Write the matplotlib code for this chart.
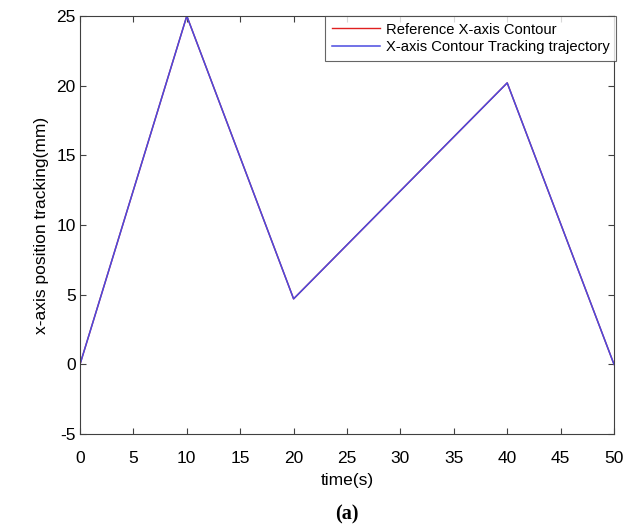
import matplotlib
matplotlib.use('Agg')
import matplotlib.pyplot as plt

# data
time_s = [0, 10, 20, 40, 50]
ref_x = [0, 25, 4.7, 20.2, 0]
track_x = [0, 25, 4.7, 20.2, 0]
x_ticks = [0, 5, 10, 15, 20, 25, 30, 35, 40, 45, 50]
y_ticks = [-5, 0, 5, 10, 15, 20, 25]

plt.rcParams['font.family'] = ['Liberation Sans', 'DejaVu Sans']
plt.rcParams['axes.unicode_minus'] = False

fig = plt.figure(figsize=(6.25, 5.28), dpi=100)
ax = fig.add_axes([0.128, 0.178, 0.8544, 0.7917])

ax.plot(time_s, ref_x, color='#e02020', lw=1.0, label='Reference X-axis Contour')
ax.plot(time_s, track_x, color='#4a4ae0', lw=1.1, label='X-axis Contour Tracking trajectory')

ax.set_xlim(0, 50)
ax.set_ylim(-5, 25)
ax.set_xticks(x_ticks)
ax.set_yticks(y_ticks)
ax.tick_params(direction='in', top=True, right=True, labelsize=12.5, length=4,
               color='#404040', width=0.8)
ax.tick_params(axis='x', pad=12)
ax.tick_params(axis='y', pad=3)
for s in ax.spines.values():
    s.set_color('#404040')
    s.set_linewidth(0.8)

ax.set_xlabel('time(s)', fontsize=12.5, labelpad=5)
ax.set_ylabel('x-axis position tracking(mm)', fontsize=12.5, labelpad=5)

leg = ax.legend(loc='upper right', bbox_to_anchor=(616 / 625, 1 - 16 / 528),
                bbox_transform=fig.transFigure, fontsize=10.6,
                frameon=True, fancybox=False, borderaxespad=0, handlelength=3.3,
                borderpad=0.45, labelspacing=0.25, handletextpad=0.35)
leg.get_frame().set_edgecolor('#404040')
leg.get_frame().set_linewidth(0.8)

fig.text(0.5552, 1 - 514 / 528, '(a)', fontsize=14.5, fontweight='bold',
         family='Liberation Serif', ha='center', va='center')

fig.savefig('out.png', dpi=100)
